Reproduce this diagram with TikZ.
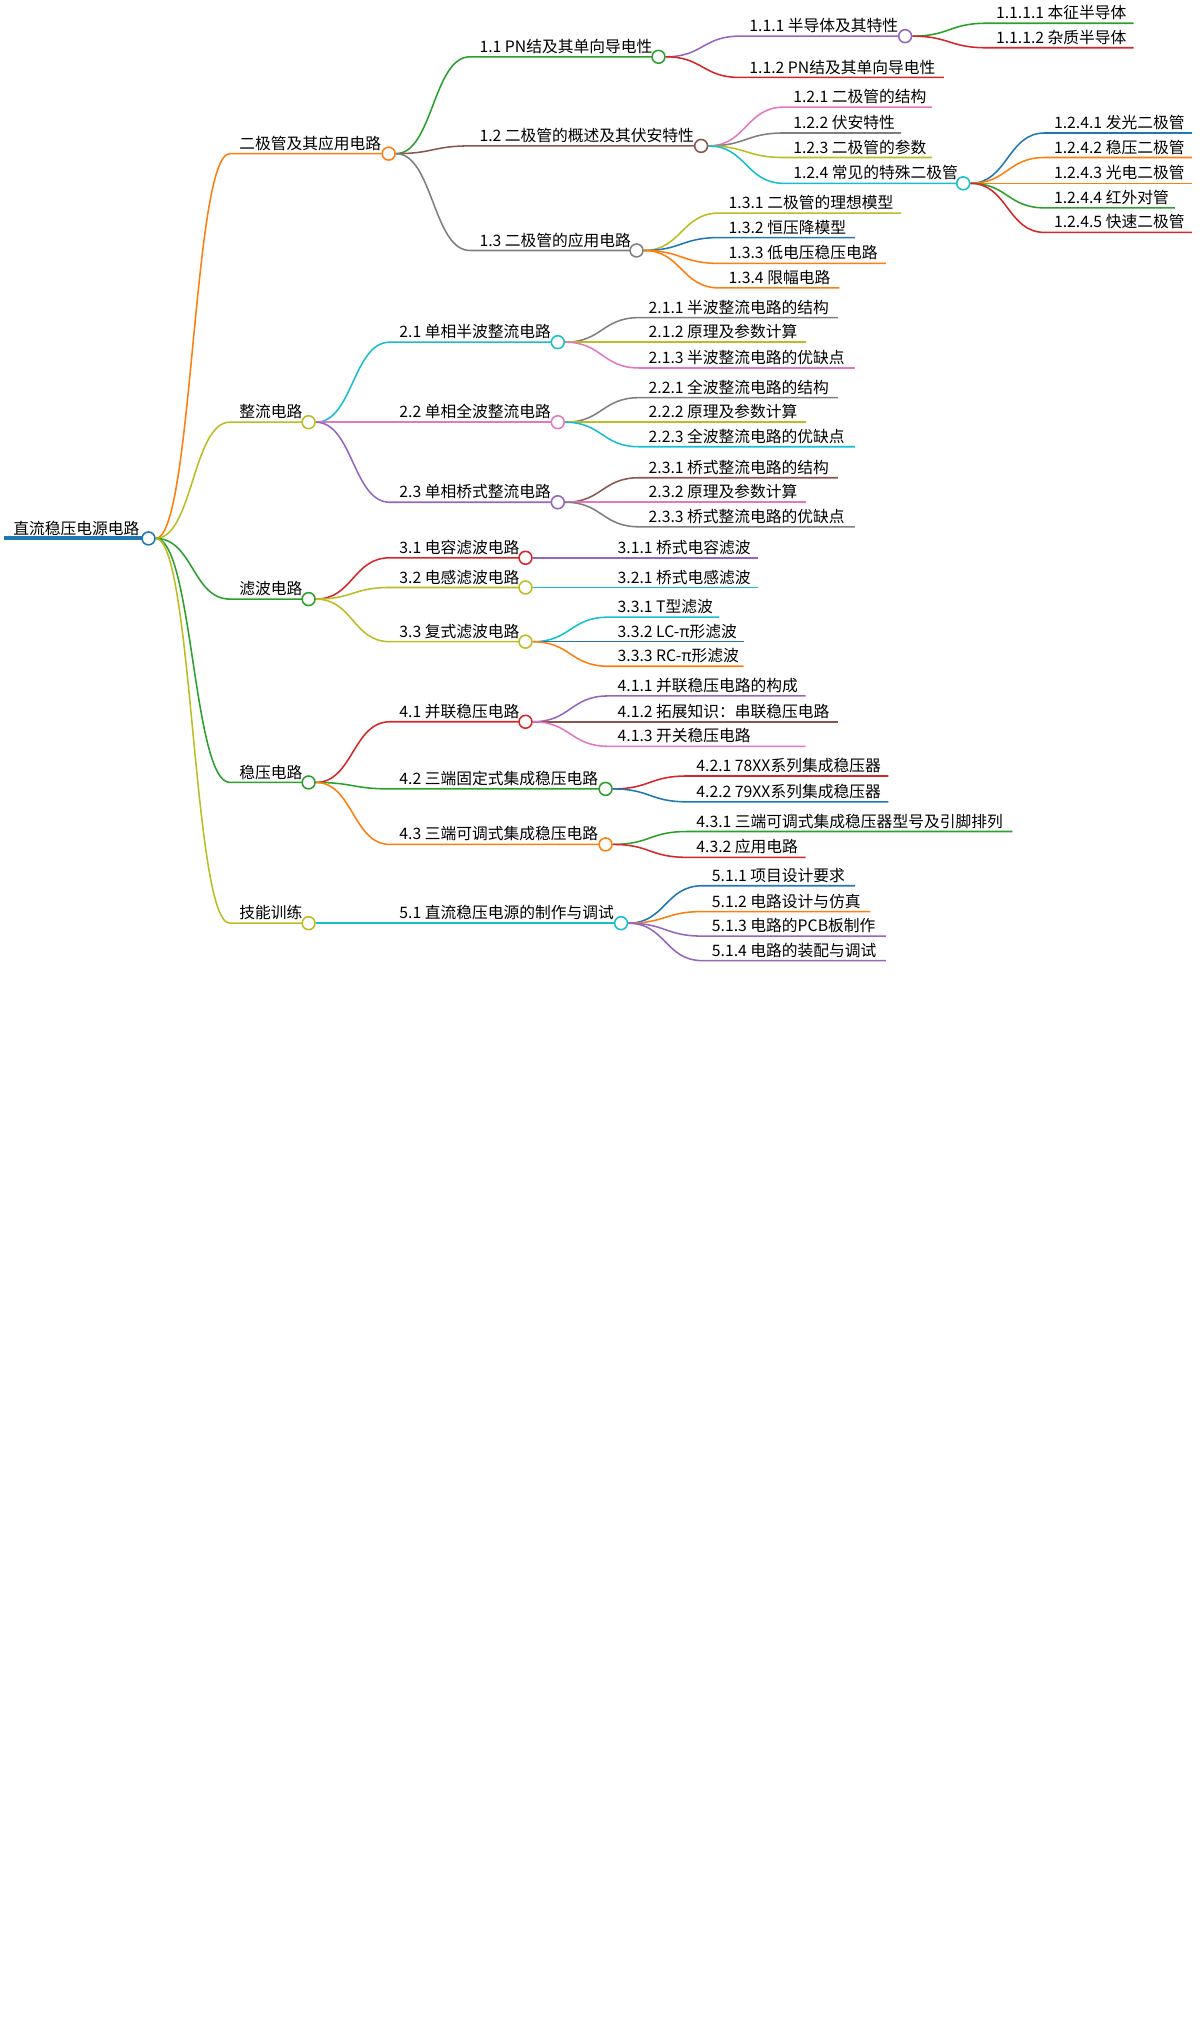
\documentclass[tikz,border=0pt]{standalone}
\usepackage{fontspec}
\setmainfont{Noto Sans CJK SC}
\usetikzlibrary{calc}

\definecolor{cblue}{HTML}{1F77B4}
\definecolor{corange}{HTML}{FF7F0E}
\definecolor{cgreen}{HTML}{2CA02C}
\definecolor{cred}{HTML}{D62728}
\definecolor{cpurple}{HTML}{9467BD}
\definecolor{cbrown}{HTML}{8C564B}
\definecolor{cpink}{HTML}{E377C2}
\definecolor{cgray}{HTML}{7F7F7F}
\definecolor{colive}{HTML}{BCBD22}
\definecolor{ccyan}{HTML}{17BECF}

% #1 name, #2 parent, #3 x start, #4 x end, #5 y, #6 colour, #7 text
\newcommand\mmnode[7]{%
  \coordinate (#1-s) at (#3,#5);
  \coordinate (#1-e) at (#4,#5);
  \node[dot] (#1-c) at (#1-e) {};
  \node[lbl] (#1) at ($(#1-s)+(5,0)$) {#7};
  \coordinate (#1-m) at ($(#2-c.east)!0.5!(#1-s)$);
  \draw[edge, #6] (#2-c.east) .. controls (#1-m |- #2-c.east) and (#1-m |- #1-s) .. (#1-s) -- (#1-e);
}
\newcommand\mmdot[2]{\node[dot, draw=#2, fill=white] (#1-d) at (#1-e) {};}

\begin{document}
\begin{tikzpicture}[
  x=0.5pt, y=-0.5pt,
  lbl/.style={anchor=south west, inner sep=1pt, font=\fontsize{6.1pt}{7pt}\selectfont},
  edge/.style={line width=0.6pt},
  dot/.style={circle, line width=0.6pt, minimum size=5pt, inner sep=0pt}
]
  \useasboundingbox (0,0) rectangle (930,1573);

  % root
  \coordinate (root-s) at (3,417);
  \coordinate (root-e) at (115,417);
  \node[dot] (root-c) at (root-e) {};
  \draw[cblue, line width=1.5pt] (root-s) -- (root-e);
  \node[lbl] (root) at (8,417) {直流稳压电源电路};

  % 1
  \mmnode{a}{root}{178}{301}{119}{corange}{二极管及其应用电路}
  \mmnode{a1}{a}{364}{510}{44}{cgreen}{1.1 PN结及其单向导电性}
  \mmnode{a11}{a1}{573}{701}{28}{cpurple}{1.1.1 半导体及其特性}
  \mmnode{a111}{a11}{764}{878}{18}{cgreen}{1.1.1.1 本征半导体}
  \mmnode{a112}{a11}{764}{878}{37}{cred}{1.1.1.2 杂质半导体}
  \mmnode{a12}{a1}{573}{731}{60}{cred}{1.1.2 PN结及其单向导电性}
  \mmnode{a2}{a}{364}{543}{113}{cbrown}{1.2 二极管的概述及其伏安特性}
  \mmnode{a21}{a2}{607}{722}{83}{cpink}{1.2.1 二极管的结构}
  \mmnode{a22}{a2}{607}{698}{103}{cgray}{1.2.2 伏安特性}
  \mmnode{a23}{a2}{607}{722}{122}{colive}{1.2.3 二极管的参数}
  \mmnode{a24}{a2}{607}{746}{142}{ccyan}{1.2.4 常见的特殊二极管}
  \mmnode{a241}{a24}{809}{923}{103}{cblue}{1.2.4.1 发光二极管}
  \mmnode{a242}{a24}{809}{923}{122}{corange}{1.2.4.2 稳压二极管}
  \mmnode{a243}{a24}{809}{923}{142}{corange}{1.2.4.3 光电二极管}
  \mmnode{a244}{a24}{809}{910}{161}{cgreen}{1.2.4.4 红外对管}
  \mmnode{a245}{a24}{809}{923}{180}{cred}{1.2.4.5 快速二极管}
  \mmnode{a3}{a}{364}{493}{194}{cgray}{1.3 二极管的应用电路}
  \mmnode{a31}{a3}{557}{698}{165}{colive}{1.3.1 二极管的理想模型}
  \mmnode{a32}{a3}{557}{662}{184}{cblue}{1.3.2 恒压降模型}
  \mmnode{a33}{a3}{557}{686}{204}{corange}{1.3.3 低电压稳压电路}
  \mmnode{a34}{a3}{557}{650}{223}{corange}{1.3.4 限幅电路}

  % 2
  \mmnode{b}{root}{178}{239}{327}{colive}{整流电路}
  \mmnode{b1}{b}{302}{432}{265}{ccyan}{2.1 单相半波整流电路}
  \mmnode{b11}{b1}{495}{649}{246}{cgray}{2.1.1 半波整流电路的结构}
  \mmnode{b12}{b1}{495}{624}{265}{colive}{2.1.2 原理及参数计算}
  \mmnode{b13}{b1}{495}{662}{285}{cpink}{2.1.3 半波整流电路的优缺点}
  \mmnode{b2}{b}{302}{432}{327}{cpink}{2.2 单相全波整流电路}
  \mmnode{b21}{b2}{495}{649}{308}{cgray}{2.2.1 全波整流电路的结构}
  \mmnode{b22}{b2}{495}{624}{327}{colive}{2.2.2 原理及参数计算}
  \mmnode{b23}{b2}{495}{662}{346}{ccyan}{2.2.3 全波整流电路的优缺点}
  \mmnode{b3}{b}{302}{432}{389}{cpurple}{2.3 单相桥式整流电路}
  \mmnode{b31}{b3}{495}{649}{370}{cbrown}{2.3.1 桥式整流电路的结构}
  \mmnode{b32}{b3}{495}{624}{389}{cpink}{2.3.2 原理及参数计算}
  \mmnode{b33}{b3}{495}{662}{408}{cgray}{2.3.3 桥式整流电路的优缺点}

  % 3
  \mmnode{c}{root}{178}{239}{464}{cgreen}{滤波电路}
  \mmnode{c1}{c}{302}{407}{432}{cred}{3.1 电容滤波电路}
  \mmnode{c11}{c1}{471}{587}{432}{cpurple}{3.1.1 桥式电容滤波}
  \mmnode{c2}{c}{302}{407}{455}{colive}{3.2 电感滤波电路}
  \mmnode{c21}{c2}{471}{587}{455}{ccyan}{3.2.1 桥式电感滤波}
  \mmnode{c3}{c}{302}{407}{497}{colive}{3.3 复式滤波电路}
  \mmnode{c31}{c3}{471}{557}{478}{ccyan}{3.3.1 T型滤波}
  \mmnode{c32}{c3}{471}{576}{497}{cblue}{3.3.2 LC-π形滤波}
  \mmnode{c33}{c3}{471}{576}{516}{corange}{3.3.3 RC-π形滤波}

  % 4
  \mmnode{d}{root}{178}{239}{606}{cgreen}{稳压电路}
  \mmnode{d1}{d}{302}{407}{559}{cred}{4.1 并联稳压电路}
  \mmnode{d11}{d1}{471}{624}{539}{cpurple}{4.1.1 并联稳压电路的构成}
  \mmnode{d12}{d1}{471}{649}{559}{cbrown}{4.1.2 拓展知识：串联稳压电路}
  \mmnode{d13}{d1}{471}{624}{578}{cpink}{4.1.3 开关稳压电路}
  \mmnode{d2}{d}{302}{469}{611}{cgreen}{4.2 三端固定式集成稳压电路}
  \mmnode{d21}{d2}{532}{688}{601}{cred}{4.2.1 78XX系列集成稳压器}
  \mmnode{d22}{d2}{532}{688}{621}{cblue}{4.2.2 79XX系列集成稳压器}
  \mmnode{d3}{d}{302}{469}{654}{corange}{4.3 三端可调式集成稳压电路}
  \mmnode{d31}{d3}{532}{784}{644}{cgreen}{4.3.1 三端可调式集成稳压器型号及引脚排列}
  \mmnode{d32}{d3}{532}{624}{664}{cred}{4.3.2 应用电路}

  % 5
  \mmnode{e}{root}{178}{239}{715}{colive}{技能训练}
  \mmnode{e1}{e}{302}{481}{715}{ccyan}{5.1 直流稳压电源的制作与调试}
  \mmnode{e11}{e1}{544}{662}{686}{cblue}{5.1.1 项目设计要求}
  \mmnode{e12}{e1}{544}{674}{706}{corange}{5.1.2 电路设计与仿真}
  \mmnode{e13}{e1}{544}{686}{725}{cpurple}{5.1.3 电路的PCB板制作}
  \mmnode{e14}{e1}{544}{686}{744}{cpurple}{5.1.4 电路的装配与调试}

  % circles
  \mmdot{root}{cblue}
  \mmdot{a}{corange}\mmdot{a1}{cgreen}\mmdot{a11}{cpurple}
  \mmdot{a2}{cbrown}\mmdot{a24}{ccyan}\mmdot{a3}{cgray}
  \mmdot{b}{colive}\mmdot{b1}{ccyan}\mmdot{b2}{cpink}\mmdot{b3}{cpurple}
  \mmdot{c}{cgreen}\mmdot{c1}{cred}\mmdot{c2}{colive}\mmdot{c3}{colive}
  \mmdot{d}{cgreen}\mmdot{d1}{cred}\mmdot{d2}{cgreen}\mmdot{d3}{corange}
  \mmdot{e}{colive}\mmdot{e1}{ccyan}
\end{tikzpicture}
\end{document}
